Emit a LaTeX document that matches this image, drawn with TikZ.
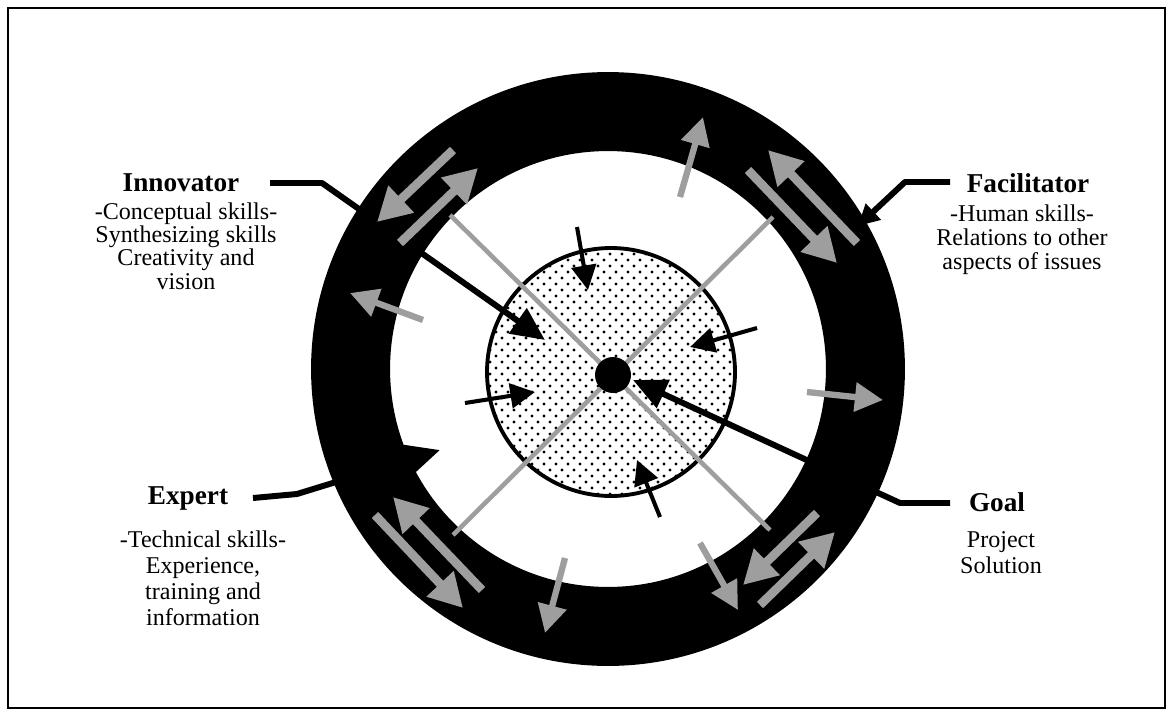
\documentclass[tikz,border=0pt]{standalone}
\usepackage{fontspec}
\setmainfont{Liberation Serif}
\usetikzlibrary{arrows.meta}
\definecolor{htgrey}{gray}{0.62}
\definecolor{ink}{gray}{0}
\tikzset{
  hd/.style   = {font=\fontsize{15.5}{16}\selectfont\bfseries, inner sep=0pt},
  txt/.style  = {font=\fontsize{13.7}{13.3}\selectfont, align=center, inner sep=0pt},
  ldr/.style  = {draw=ink, line width=3.4pt, line join=round,
                 -{Triangle[length=19pt,width=17pt]}},
  blk/.style  = {draw=ink, line width=2.3pt, -{Triangle[length=14pt,width=14pt]}},
  gx/.style   = {draw=htgrey, line width=2.6pt},
  grad/.style = {draw=htgrey, line width=3.6pt, -{Triangle[length=16pt,width=16pt]}},
  gar/.style  = {draw=htgrey, line width=5pt, -{Triangle[length=19pt,width=20pt]}},
}
\begin{document}
\begin{tikzpicture}[x=0.02cm, y=-0.02cm]
  \useasboundingbox (0,0) rectangle (1173,717);
  \draw[line width=1.1pt] (8,8) rectangle (1165,708);

  \coordinate (ringc) at (608,369);
  \coordinate (hubc) at (611,372);

  % wheel
  \fill[ink, even odd rule] (ringc) circle[radius=5.94cm] (ringc) circle[radius=4.36cm];
  \fill[white] (hubc) circle[radius=2.48cm];
  \begin{scope}
    \clip (hubc) circle[radius=2.48cm];
    \foreach \r in {0,...,44}{
      \pgfmathsetmacro{\yy}{242+6*\r}
      \pgfmathsetmacro{\sh}{mod(\r,2)*6}
      \foreach \k in {0,...,22}
        \fill[ink] (478+\sh+12*\k,\yy) circle[radius=0.034cm];
    }
  \end{scope}
  \draw[ink, line width=2.2pt] (hubc) circle[radius=2.48cm];

  % spokes
  \draw[gx] (450,215) -- (770,530);
  \draw[gx] (773,217) -- (453,535);
  \fill[ink] (613,375) circle[radius=0.36cm];

  % labels
  \node[hd] (innov) at (181,183) {Innovator};
  \node[txt] (innovtx) at (186,246) {-Conceptual skills-\\Synthesizing skills\\Creativity and\\vision};
  \node[hd] (facil) at (1028,183) {Facilitator};
  \node[txt, font=\fontsize{13.7}{13.6}\selectfont] (faciltx) at (1022,240)
       {-Human skills-\\Relations to other\\aspects of issues};
  \node[hd] (expert) at (188,498) {Expert};
  \node[txt, font=\fontsize{13.7}{14.8}\selectfont] (experttx) at (203,578)
       {-Technical skills-\\Experience,\\training and\\information};
  \node[hd] (goal) at (997,502) {Goal};
  \node[txt, font=\fontsize{13.7}{14.8}\selectfont] (goaltx) at (1001,553) {Project\\Solution};

  % leaders
  \coordinate (innovL) at (270,183);
  \coordinate (innovK) at (322,183);
  \coordinate (innovE) at (545,340);
  \draw[ldr] (innovL) -- (innovK) -- (innovE);
  \coordinate (facilL) at (950,182);
  \coordinate (facilK) at (905,182);
  \coordinate (facilE) at (858,226);
  \draw[ldr, -{Triangle[length=12pt,width=12pt]}] (facilL) -- (facilK) -- (facilE);
  \coordinate (expertL) at (253,498);
  \coordinate (expertK) at (297,494);
  \coordinate (expertE) at (440,450);
  \draw[ldr] (expertL) -- (expertK) -- (expertE);
  \coordinate (goalL) at (950,503);
  \coordinate (goalK) at (900,503);
  \coordinate (goalE) at (633,380);
  \draw[ldr] (goalL) -- (goalK) -- (goalE);

  % inward arrows
  \draw[blk] (577,227) -- (588,290);
  \draw[blk] (757,328) -- (690,347);
  \draw[blk] (465,403) -- (535,392);
  \draw[blk] (660,517) -- (637,460);

  % outward arrows
  \draw[grad] (680,197) -- (703,117);
  \draw[grad] (423,320) -- (350,293);
  \draw[grad] (807,392) -- (883,400);
  \draw[grad] (565,558) -- (545,633);
  \draw[grad] (700,543) -- (738,610);

  % arrows in the ring
  \draw[gar] (453,150) -- (377,222);
  \draw[gar] (400,243) -- (478,168);
  \draw[gar] (857,243) -- (768,150);
  \draw[gar] (748,170) -- (837,263);
  \draw[gar] (482,590) -- (393,497);
  \draw[gar] (375,515) -- (463,608);
  \draw[gar] (817,513) -- (743,585);
  \draw[gar] (760,605) -- (835,532);
\end{tikzpicture}
\end{document}
